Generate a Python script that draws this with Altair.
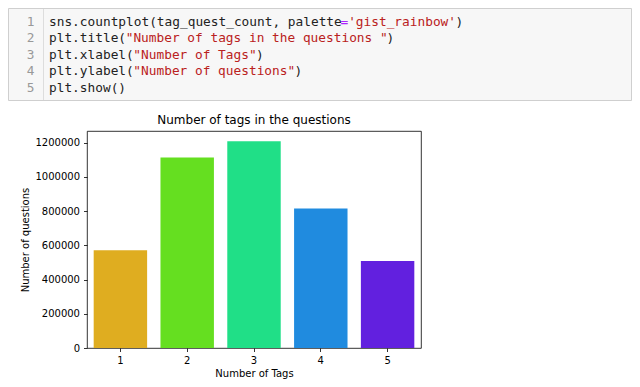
import altair as alt
import pandas as pd

# ---- data ----
tags = ["1", "2", "3", "4", "5"]
counts = [571000, 1113000, 1207000, 815000, 508000]
bar_colors = ["#DFAD20", "#65DF20", "#20DF87", "#208BDF", "#6220DF"]
y_ticks = [0, 200000, 400000, 600000, 800000, 1000000, 1200000]

title_text = "Number of tags in the questions"
x_title = "Number of Tags"
y_title = "Number of questions"

# code cell tokens: (line, column, text, kind)
code_tokens = [
    (1, 0, "sns.countplot(tag_quest_count, palette", "code"),
    (1, 38, "=", "op"),
    (1, 39, "'gist_rainbow'", "str"),
    (1, 53, ")", "code"),
    (2, 0, "plt.title(", "code"),
    (2, 10, '"Number of tags in the questions "', "str"),
    (2, 44, ")", "code"),
    (3, 0, "plt.xlabel(", "code"),
    (3, 11, '"Number of Tags"', "str"),
    (3, 27, ")", "code"),
    (4, 0, "plt.ylabel(", "code"),
    (4, 11, '"Number of questions"', "str"),
    (4, 32, ")", "code"),
    (5, 0, "plt.show()", "code"),
]
line_numbers = [1, 2, 3, 4, 5]

# ---- layout (plot-area pixel coordinates) ----
W, H = 334, 217
PAD = {"left": 79, "top": 123, "right": 211, "bottom": 31}
ox, oy = 87, 131  # page position of plot origin
kind_color = {"code": "#222222", "op": "#AA22FF", "str": "#BA2121"}
CW = 7.67
code_x0 = 49 - ox
line_y0 = 21.5 - oy
pitch = 16.5

df = pd.DataFrame({"tags": tags, "count": counts})

bars = alt.Chart(df).mark_bar().encode(
    x=alt.X("tags:N", title=x_title,
            scale=alt.Scale(paddingInner=0.2, paddingOuter=0.1),
            axis=alt.Axis(labelAngle=0, labelPadding=3.5, titlePadding=3)),
    y=alt.Y("count:Q", title=y_title,
            scale=alt.Scale(domain=[0, 1267600], nice=False, zero=True),
            axis=alt.Axis(values=y_ticks, format="d", labelPadding=4, titlePadding=4)),
    color=alt.Color("tags:N", scale=alt.Scale(domain=tags, range=bar_colors), legend=None),
)

box_df = pd.DataFrame({"a": [0]})
box = alt.Chart(box_df).mark_rect(fill="#f7f7f7", stroke="#cfcfcf", strokeWidth=1).encode(
    x=alt.value(8.5 - ox), x2=alt.value(631.5 - ox),
    y=alt.value(8.5 - oy), y2=alt.value(100.5 - oy),
)
gutter = alt.Chart(box_df).mark_rule(color="#dddddd", strokeWidth=1).encode(
    x=alt.value(43.5 - ox), y=alt.value(9 - oy), y2=alt.value(100 - oy),
)

num_df = pd.DataFrame({
    "n": [str(n) for n in line_numbers],
    "py": [line_y0 + (n - 1) * pitch for n in line_numbers],
})
nums = alt.Chart(num_df).mark_text(
    font="DejaVu Sans Mono", fontSize=12.8, align="right", baseline="middle", color="#999999"
).encode(
    x=alt.value(34.5 - ox),
    y=alt.Y("py:Q", scale=None, axis=None),
    text="n:N",
)

tok_df = pd.DataFrame({
    "t": [t[2] for t in code_tokens],
    "px": [code_x0 + t[1] * CW for t in code_tokens],
    "py": [line_y0 + (t[0] - 1) * pitch for t in code_tokens],
    "c": [kind_color[t[3]] for t in code_tokens],
})
toks = alt.Chart(tok_df).mark_text(
    font="DejaVu Sans Mono", fontSize=12.8, align="left", baseline="middle"
).encode(
    x=alt.X("px:Q", scale=None, axis=None),
    y=alt.Y("py:Q", scale=None, axis=None),
    color=alt.Color("c:N", scale=None, legend=None),
    text="t:N",
)

title_df = pd.DataFrame({"t": [title_text]})
title = alt.Chart(title_df).mark_text(
    font="DejaVu Sans", fontSize=12, align="center", baseline="middle", color="#000000"
).encode(
    x=alt.value(W / 2), y=alt.value(120 - oy), text="t:N"
)

chart = alt.layer(box, gutter, nums, toks, title, bars).resolve_scale(
    x="independent", y="independent", color="independent"
).properties(
    width=W, height=H,
    autosize=alt.AutoSizeParams(type="none"),
    padding=PAD,
    background="white",
).configure_view(
    stroke="black", strokeWidth=0.8
).configure_axis(
    labelFont="DejaVu Sans", labelFontSize=10, labelColor="#000000",
    titleFont="DejaVu Sans", titleFontSize=10, titleFontWeight="normal", titleColor="#000000",
    tickColor="#000000", tickWidth=0.8, tickSize=3.5, grid=False, domain=False,
)

chart.save("out.html", embed_options={"renderer": "svg", "actions": False})
